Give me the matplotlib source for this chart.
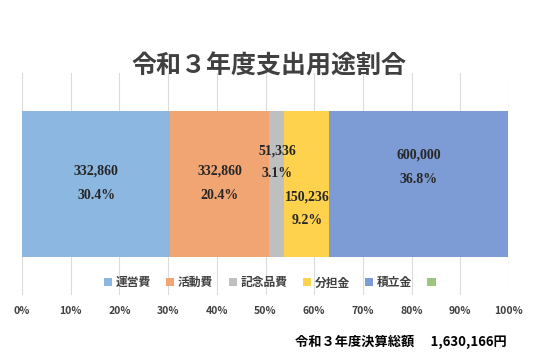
import matplotlib.pyplot as plt
import numpy as np

plt.rcParams['font.family'] = ['Noto Sans CJK JP', 'DejaVu Sans']

# data
categories = ['運営費', '活動費', '記念品費', '分担金', '積立金', '']
amounts = ['332,860', '332,860', '51,336', '150,236', '600,000', None]
shares = [30.4, 20.4, 3.1, 9.2, 36.8, 0.0]
colors = ['#8CB7E1', '#F1A572', '#BFBFBF', '#FFD24D', '#7D9BD4', '#9DC67C']
ticks = np.arange(0, 101, 10)
title = '令和３年度支出用途割合'
total_text = '令和３年度決算総額　 1,630,166円'

fig = plt.figure(figsize=(5.38, 3.59), dpi=100)
ax = fig.add_axes([0.041, 0.178, 0.905, 0.619])

left = 0
bars = []
for cat, val, c in zip(categories, shares, colors):
    ax.barh(0, val, left=left, height=0.66, color=c, label=cat if cat else ' ', zorder=2)
    bars.append((left, val))
    left += val

# label offsets (y in data units) - as placed in the original
offsets = [0.06, 0.06, 0.15, -0.06, 0.13]
serif = ['Liberation Serif', 'DejaVu Serif']
for i, (amt, pct) in enumerate(zip(amounts, shares)):
    if amt is None:
        continue
    l, w = bars[i]
    cx = l + w / 2
    ya = offsets[i]
    yb = ya - 0.105 if i in (2, 3) else ya - 0.11
    ax.text(cx, ya, amt, ha='center', va='center', fontsize=10,
            fontweight='bold', family=serif, color='#262626', zorder=4)
    ax.text(cx, yb, f'{pct:.1f}%', ha='center', va='center', fontsize=10,
            fontweight='bold', family=serif, color='#262626', zorder=4)

ax.set_xlim(0, 100)
ax.set_ylim(-0.5, 0.5)
ax.set_xticks(ticks)
ax.set_xticklabels([f'{t}%' for t in ticks], fontsize=7.5, fontweight='bold', color='#404040')
ax.set_yticks([])
ax.tick_params(axis='x', length=0, pad=8)
ax.grid(axis='x', color='#B0B0B0', alpha=0.45, linewidth=0.8, zorder=3)
for s in ax.spines.values():
    s.set_visible(False)

ax.legend(loc='center', bbox_to_anchor=(0.515, 0.055), ncol=6, frameon=False,
          prop={'size': 8.5, 'weight': 'bold'}, handlelength=0.7, handleheight=0.7,
          handletextpad=0.3, columnspacing=1.3, borderaxespad=0,
          labelcolor='#404040')

fig.text(0.5, 0.816, title, ha='center', va='center', fontsize=18,
         fontweight='bold', color='#404040')
fig.text(0.942, 0.048, total_text, ha='right', va='center', fontsize=9.5,
         fontweight='bold', color='black')

fig.savefig('out.png', dpi=100)
